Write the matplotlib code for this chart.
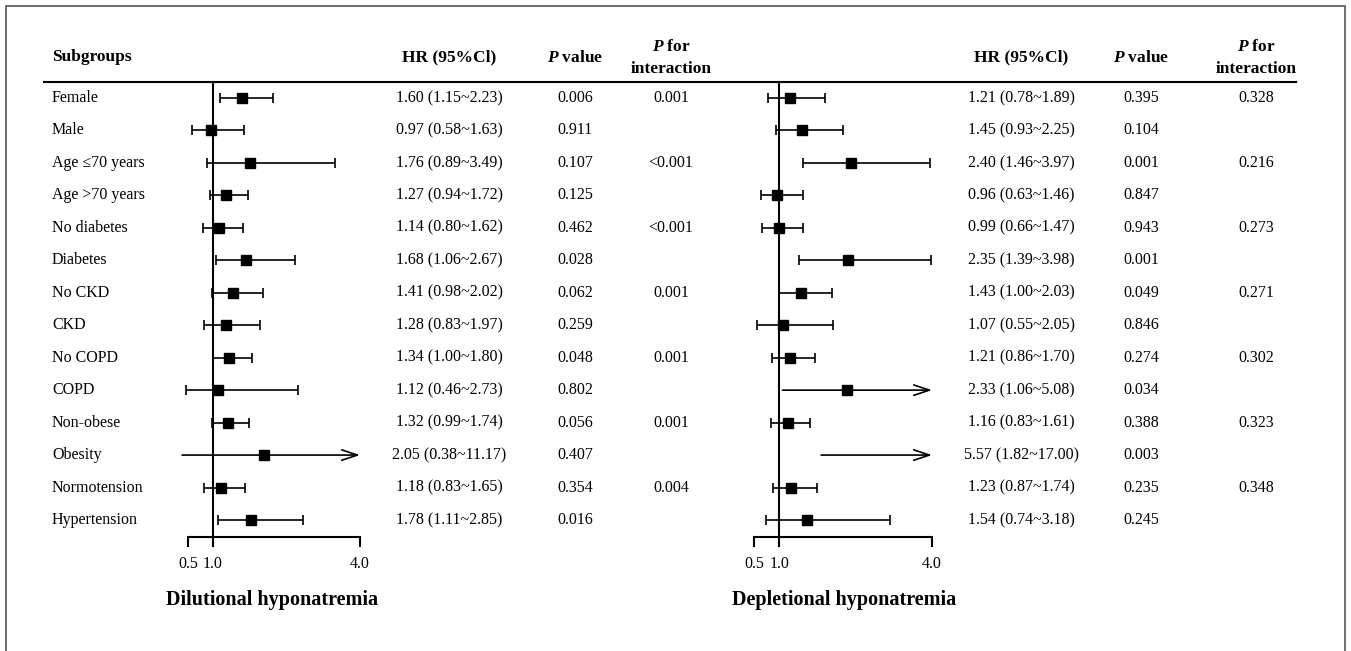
import matplotlib.pyplot as plt
from matplotlib.patches import Rectangle
import matplotlib.transforms as mtransforms

plt.rcParams['font.family'] = ['Liberation Serif', 'DejaVu Serif']
plt.rcParams['mathtext.fontset'] = 'custom'
plt.rcParams['mathtext.bfit'] = 'Liberation Serif:italic:bold'
plt.rcParams['mathtext.rm'] = 'Liberation Serif'

# Daten
subgroups = ['Female', 'Male', 'Age \u226470 years', 'Age >70 years', 'No diabetes',
             'Diabetes', 'No CKD', 'CKD', 'No COPD', 'COPD', 'Non-obese', 'Obesity',
             'Normotension', 'Hypertension']

dil_hr = [1.60, 0.97, 1.76, 1.27, 1.14, 1.68, 1.41, 1.28, 1.34, 1.12, 1.32, 2.05, 1.18, 1.78]
dil_lo = [1.15, 0.58, 0.89, 0.94, 0.80, 1.06, 0.98, 0.83, 1.00, 0.46, 0.99, 0.38, 0.83, 1.11]
dil_hi = [2.23, 1.63, 3.49, 1.72, 1.62, 2.67, 2.02, 1.97, 1.80, 2.73, 1.74, 11.17, 1.65, 2.85]
dil_p = ['0.006', '0.911', '0.107', '0.125', '0.462', '0.028', '0.062', '0.259', '0.048',
         '0.802', '0.056', '0.407', '0.354', '0.016']
dil_pint = ['0.001', '', '<0.001', '', '<0.001', '', '0.001', '', '0.001', '', '0.001', '',
            '0.004', '']

dep_hr = [1.21, 1.45, 2.40, 0.96, 0.99, 2.35, 1.43, 1.07, 1.21, 2.33, 1.16, 5.57, 1.23, 1.54]
dep_lo = [0.78, 0.93, 1.46, 0.63, 0.66, 1.39, 1.00, 0.55, 0.86, 1.06, 0.83, 1.82, 0.87, 0.74]
dep_hi = [1.89, 2.25, 3.97, 1.46, 1.47, 3.98, 2.03, 2.05, 1.70, 5.08, 1.61, 17.00, 1.74, 3.18]
dep_p = ['0.395', '0.104', '0.001', '0.847', '0.943', '0.001', '0.049', '0.846', '0.274',
         '0.034', '0.388', '0.003', '0.235', '0.245']
dep_pint = ['0.328', '', '0.216', '', '0.273', '', '0.271', '', '0.302', '', '0.323', '',
            '0.348', '']

xticks = [0.5, 1.0, 4.0]
xmax = 4.0

W, H = 1351, 651
fig = plt.figure(figsize=(W / 100, H / 100), dpi=100)

# Rahmen
fig.patches.append(Rectangle((6 / W, -0.01), (1345 - 6) / W, (H - 6) / H + 0.01,
                             transform=fig.transFigure, fill=False,
                             edgecolor='#555555', lw=1.2))

y_top, y_bot = 82, 537
n = len(subgroups)
row0, step = 98, 32.46
ylim = ((y_bot - row0) / step, (y_top - row0) / step)


def px(x):
    return x / W


def forest(x0px, x1px, hr, lo, hi, p, pint, cols, title, title_x):
    # x0px = Pixel von 0.5, x1px = Pixel von 4.0
    ppu = (x1px - x0px) / 3.5
    left = x0px - 0.5 * ppu
    right = x1px + 0.5 * ppu
    ax = fig.add_axes([px(left), (H - y_bot) / H, (right - left) / W, (y_bot - y_top) / H])
    ax.set_xlim(0.0, 4.5)
    ax.set_ylim(*ylim)
    for s in ['top', 'right', 'left']:
        ax.spines[s].set_visible(False)
    ax.spines['bottom'].set_bounds(0.5, 4.0)
    ax.spines['bottom'].set_linewidth(1.5)
    ax.set_yticks([])
    ax.set_xticks(xticks)
    ax.set_xticklabels([f'{t:.1f}' for t in xticks], fontsize=11.5)
    ax.tick_params(axis='x', direction='out', length=7.5, width=1.5, pad=6)
    ax.patch.set_alpha(0)
    ax.axvline(1.0, color='black', lw=1.5, clip_on=False)

    for i in range(n):
        if hi[i] > xmax:
            ax.annotate('', xy=(xmax, i), xytext=(lo[i], i),
                        arrowprops=dict(arrowstyle='->, head_length=0.75, head_width=0.25',
                                        mutation_scale=15, lw=1.2, color='black',
                                        shrinkA=0, shrinkB=0))
            if hr[i] <= xmax:
                ax.plot(hr[i], i, 's', color='black', ms=7.5)
        else:
            ax.errorbar(hr[i], i, xerr=[[hr[i] - lo[i]], [hi[i] - hr[i]]], fmt='s',
                        color='black', ms=7.5, elinewidth=1.2, capsize=3.6, capthick=1.2)

    trans = mtransforms.blended_transform_factory(fig.transFigure, ax.transData)
    for i in range(n):
        ax.text(px(cols[0]), i, f'{hr[i]:.2f} ({lo[i]:.2f}~{hi[i]:.2f})', transform=trans,
                ha='center', va='center', fontsize=11.5)
        ax.text(px(cols[1]), i, p[i], transform=trans, ha='center', va='center', fontsize=11.5)
        if pint[i]:
            ax.text(px(cols[2]), i, pint[i], transform=trans, ha='center', va='center',
                    fontsize=11.5)

    # Kopfzeile
    fig.text(px(cols[0]), 1 - 57 / H, 'HR (95%Cl)', ha='center', va='center',
             fontsize=12.5, fontweight='bold')
    fig.text(px(cols[1]), 1 - 58 / H, r'$\mathbfit{P}$ value', ha='center', va='center',
             fontsize=12.5, fontweight='bold')
    fig.text(px(cols[2]), 1 - 47 / H, r'$\mathbfit{P}$ for', ha='center', va='center',
             fontsize=12.5, fontweight='bold')
    fig.text(px(cols[2]), 1 - 69 / H, 'interaction', ha='center', va='center',
             fontsize=12.5, fontweight='bold')
    fig.text(px(title_x), 1 - 600 / H, title, ha='center', va='center',
             fontsize=14.5, fontweight='bold')
    return ax


ax1 = forest(188, 360, dil_hr, dil_lo, dil_hi, dil_p, dil_pint, (449, 575, 671),
             'Dilutional hyponatremia', 272)
ax2 = forest(754, 932, dep_hr, dep_lo, dep_hi, dep_p, dep_pint, (1021, 1141, 1256),
             'Depletional hyponatremia', 844)

trans1 = mtransforms.blended_transform_factory(fig.transFigure, ax1.transData)
for i, s in enumerate(subgroups):
    ax1.text(px(52), i, s, transform=trans1, ha='left', va='center', fontsize=11.5)
fig.text(px(52), 1 - 57 / H, 'Subgroups', ha='left', va='center', fontsize=12.5,
         fontweight='bold')

# Trennlinie unter der Kopfzeile
fig.add_artist(plt.Line2D([px(44), px(1296)], [1 - y_top / H, 1 - y_top / H],
                          transform=fig.transFigure, color='black', lw=1.5))

fig.savefig('out.png', dpi=100)
